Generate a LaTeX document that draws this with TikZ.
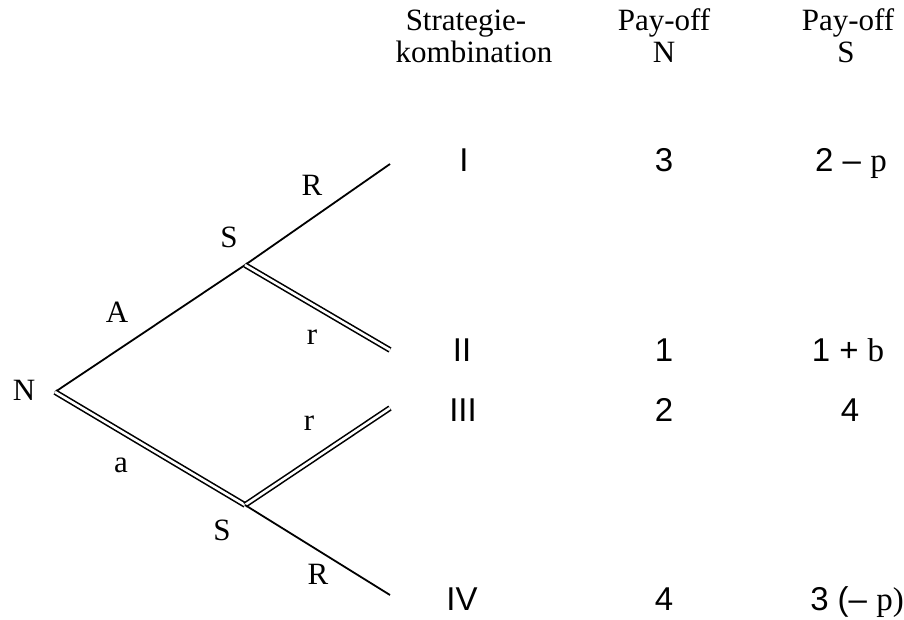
\documentclass[tikz,border=0pt]{standalone}
\usepackage{fontspec}
\setmainfont{Liberation Serif}
\newfontfamily\numfont{Liberation Sans}
\begin{document}
\begin{tikzpicture}[x=1pt,y=-1pt,
  lab/.style={font=\fontsize{31}{30}\selectfont, inner sep=0pt},
  hdr/.style={font=\fontsize{31}{30}\selectfont, inner sep=0pt, anchor=base},
  num/.style={font=\fontsize{33}{30}\selectfont\numfont, inner sep=0pt, anchor=base},
  single/.style={line width=1.8pt},
  dbl/.style={double, line width=1.6pt, double distance=2.6pt}]
\useasboundingbox (0,0) rectangle (904,619);
% tree points
\coordinate (N) at (55,392);
\coordinate (S1) at (245,265);
\coordinate (S2) at (245,505);
\coordinate (e1) at (390,164);
\coordinate (e2) at (390,350);
\coordinate (e3) at (390,408);
\coordinate (e4) at (390,595);
% branches
\draw[single] (N) -- (S1);
\draw[single] (S1) -- (e1);
\draw[dbl] (S1) -- (e2);
\draw[dbl] (N) -- (S2);
\draw[dbl] (S2) -- (e3);
\draw[single] (S2) -- (e4);
% tree labels
\node[lab] (lN) at (24,390) {N};
\node[lab] (lA) at (117,312) {A};
\node[lab] (la) at (121,465) {a};
\node[lab] (lS1) at (229,237) {S};
\node[lab] (lS2) at (222,530) {S};
\node[lab] (lR1) at (312,185) {R};
\node[lab] (lr1) at (312,337) {r};
\node[lab] (lr2) at (309,423) {r};
\node[lab] (lR2) at (318,574) {R};
% headers
\node[hdr] (h1a) at (466,30) {Strategie-};
\node[hdr] (h1b) at (474,62) {kombination};
\node[hdr] (h2a) at (664,30) {Pay-off};
\node[hdr] (h2b) at (664,62) {N};
\node[hdr] (h3a) at (848,30) {Pay-off};
\node[hdr] (h3b) at (846,62) {S};
% rows
\node[num] (r1a) at (464,171) {I};
\node[num] (r1b) at (664,171) {3};
\node[num] (r1c) at (851,171) {2 – {\rmfamily p}};
\node[num] (r2a) at (462,361) {II};
\node[num] (r2b) at (664,361) {1};
\node[num] (r2c) at (848,361) {1 + {\rmfamily b}};
\node[num] (r3a) at (463,421) {III};
\node[num] (r3b) at (664,421) {2};
\node[num] (r3c) at (850,421) {4};
\node[num] (r4a) at (462,610) {IV};
\node[num] (r4b) at (664,610) {4};
\node[num] (r4c) at (857,610) {3 (– {\rmfamily p)}};
\end{tikzpicture}
\end{document}
